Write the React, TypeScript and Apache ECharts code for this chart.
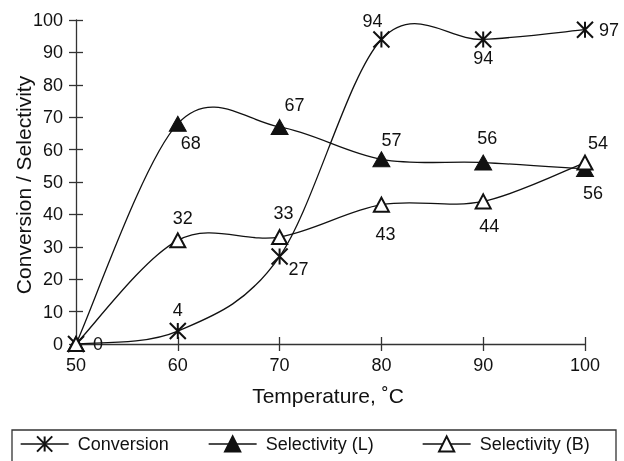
import React, { useEffect, useRef } from "react";
import * as echarts from "echarts";

const temperatures = [50, 60, 70, 80, 90, 100];
const conversion = [0, 4, 27, 94, 94, 97];
const selectivityL = [0, 68, 67, 57, 56, 54];
const selectivityB = [0, 32, 33, 43, 44, 56];
const seriesNames = ["Conversion", "Selectivity (L)", "Selectivity (B)"];
const xTitle = "Temperature, \u02DAC";
const yTitle = "Conversion / Selectivity";

const INK = "#111";
const FONT = "'Liberation Sans', Arial, Helvetica, sans-serif";

type LP = [string, number, number] | null;

const convLabelPos: LP[] = [["right", 3, 0], ["top", 0, 2], ["right", -5, 12], ["top", -9, 5], ["bottom", 0, -4], ["right", 0, 0]];
const lLabelPos: LP[] = [null, ["bottom", 13, -3], ["top", 15, 0], ["top", 10, 3], ["top", 4, -3], ["top", 13, -4]];
const bLabelPos: LP[] = [null, ["top", 5, 0], ["top", 4, -2], ["bottom", 4, 7], ["bottom", 6, 3], ["bottom", 8, 8]];

const asterisk = "path://M0,0L16,16M16,0L0,16M8,0L8,16";

function buildData(values: number[], pos: LP[]) {
  return temperatures.map((t, i) => {
    const p = pos[i];
    return {
      value: [t, values[i]],
      label: p
        ? { show: true, position: p[0], offset: [p[1], p[2]] }
        : { show: false },
    };
  });
}

// Excel-style smoothed curve (Bezier with control points at 1/6 of neighbour span)
function smoothPath(pts: number[][]) {
  let d = `M${pts[0][0]},${pts[0][1]}`;
  for (let i = 0; i < pts.length - 1; i++) {
    const p0 = pts[i - 1] || pts[i];
    const p1 = pts[i];
    const p2 = pts[i + 1];
    const p3 = pts[i + 2] || pts[i + 1];
    const c1 = [p1[0] + (p2[0] - p0[0]) / 6, p1[1] + (p2[1] - p0[1]) / 6];
    const c2 = [p2[0] - (p3[0] - p1[0]) / 6, p2[1] - (p3[1] - p1[1]) / 6];
    d += ` C${c1[0]},${c1[1]} ${c2[0]},${c2[1]} ${p2[0]},${p2[1]}`;
  }
  return d;
}

function curveSeries(values: number[]) {
  return {
    type: "custom",
    coordinateSystem: "cartesian2d",
    silent: true,
    z: 2,
    data: [[temperatures[0], values[0]]],
    renderItem: (_params: any, api: any) => {
      const pts = temperatures.map((t, i) => api.coord([t, values[i]]));
      return {
        type: "path",
        shape: { pathData: smoothPath(pts) },
        style: { fill: "none", stroke: INK, lineWidth: 1.3 },
      };
    },
  };
}

export default function App() {
  const ref = useRef<HTMLDivElement>(null);
  useEffect(() => {
    if (!ref.current) return;
    const chart = echarts.init(ref.current, undefined, { renderer: "svg" });
    const labelStyle = { color: INK, fontSize: 18, fontFamily: FONT, distance: 5 };
    const baseSeries = {
      type: "line",
      lineStyle: { color: INK, width: 1.3, opacity: 0 },
      emphasis: { disabled: true },
      label: labelStyle,
      z: 3,
    };
    const xCommon = { type: "value", min: 50, max: 100, interval: 10 };
    const yCommon = { type: "value", min: 0, max: 100, interval: 10 };
    const tickStyle = { color: "#333", width: 1.3 };
    chart.setOption({
      animation: false,
      textStyle: { fontFamily: FONT },
      grid: { left: 76, right: 39, top: 20, bottom: 117, containLabel: false },
      xAxis: [
        {
          ...xCommon,
          axisLine: { show: true, lineStyle: tickStyle },
          axisTick: { show: true, length: 7, lineStyle: tickStyle },
          axisLabel: { color: INK, fontSize: 18, fontFamily: FONT, margin: 12 },
          splitLine: { show: false },
        },
        {
          ...xCommon,
          position: "bottom",
          axisLine: { show: false },
          axisTick: { show: true, inside: true, length: 7, lineStyle: tickStyle },
          axisLabel: { show: false },
          splitLine: { show: false },
        },
      ],
      yAxis: [
        {
          ...yCommon,
          axisLine: { show: true, lineStyle: tickStyle },
          axisTick: { show: true, length: 7, lineStyle: tickStyle },
          axisLabel: { color: INK, fontSize: 18, fontFamily: FONT, margin: 13 },
          splitLine: { show: false },
        },
        {
          ...yCommon,
          position: "left",
          axisLine: { show: false },
          axisTick: { show: true, inside: true, length: 7, lineStyle: tickStyle },
          axisLabel: { show: false },
          splitLine: { show: false },
        },
      ],
      legend: seriesNames.map((n, i) => ({
        data: [n],
        left: [20, 208, 422][i],
        top: 435,
        padding: 0,
        itemWidth: 48,
        itemHeight: 19,
        selectedMode: false,
        lineStyle: { color: INK, width: 1.3, opacity: 1 },
        textStyle: { color: INK, fontSize: 18, fontFamily: FONT, padding: [0, 0, 0, 4] },
      })),
      graphic: [
        {
          type: "rect",
          shape: { x: 12, y: 430, width: 604, height: 50 },
          style: { fill: "none", stroke: "#333", lineWidth: 1.3 },
        },
        {
          type: "text",
          x: 328,
          y: 395,
          style: { text: xTitle, fill: INK, fontSize: 21, fontFamily: FONT, textAlign: "center", textVerticalAlign: "middle" },
        },
        {
          type: "text",
          x: 23,
          y: 185,
          rotation: Math.PI / 2,
          style: { text: yTitle, fill: INK, fontSize: 21, fontFamily: FONT, textAlign: "center", textVerticalAlign: "middle" },
        },
      ],
      series: [
        curveSeries(conversion),
        curveSeries(selectivityL),
        curveSeries(selectivityB),
        {
          ...baseSeries,
          name: seriesNames[0],
          symbol: asterisk,
          symbolSize: 16,
          itemStyle: { color: INK, borderColor: INK, borderWidth: 2 },
          data: buildData(conversion, convLabelPos),
        },
        {
          ...baseSeries,
          name: seriesNames[1],
          symbol: "triangle",
          symbolSize: [17, 15],
          itemStyle: { color: INK, borderColor: INK, borderWidth: 1 },
          data: buildData(selectivityL, lLabelPos),
        },
        {
          ...baseSeries,
          name: seriesNames[2],
          symbol: "triangle",
          symbolSize: [15, 14],
          itemStyle: { color: "#fff", borderColor: INK, borderWidth: 2 },
          data: buildData(selectivityB, bLabelPos),
        },
      ],
    });
    return () => chart.dispose();
  }, []);
  return (
    <div
      ref={ref}
      style={{ position: "fixed", left: 0, top: 0, width: 624, height: 461 }}
    />
  );
}
